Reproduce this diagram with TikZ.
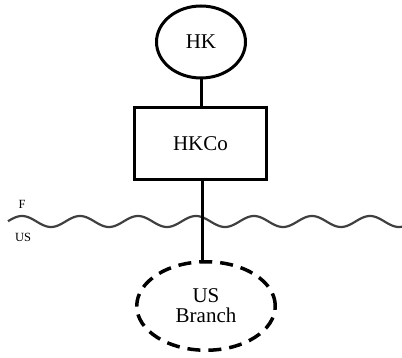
\documentclass[tikz,border=0pt]{standalone}
\usepackage{fontspec}
\setmainfont{Liberation Serif}
\usetikzlibrary{shapes.geometric}
\begin{document}
\begin{tikzpicture}[x=1pt,y=-1pt,
  entity/.style={draw=black,line width=3pt,ellipse,inner sep=0pt,font=\fontsize{21}{23}\selectfont,align=center},
  company/.style={draw=black,line width=3pt,rectangle,inner sep=0pt,font=\fontsize{21}{23}\selectfont},
  branch/.style={entity,dash pattern=on 13pt off 8pt,line width=3.5pt},
  link/.style={draw=black,line width=3pt},
  border/.style={draw=black!75,line width=2.2pt},
  side/.style={font=\fontsize{12.5}{14}\selectfont}]
\useasboundingbox (0,0) rectangle (402,358);
% owner and its company
\node[entity,minimum width=89pt,minimum height=72pt] (hk) at (201,42) {HK};
\node[company,minimum width=132pt,minimum height=72pt] (hkco) at (200.5,144) {HKCo};
% branch across the border
\node[branch,minimum width=138.5pt,minimum height=88.5pt] (br) at (206,306) {US\\[-3pt]Branch};
% wavy border line (period 58pt)
\draw[border,domain=8:402,samples=200,smooth] plot (\x,{221.5-5.5*cos(6.2069*(\x-22))});
\node[side] (f) at (22,204) {F};
\node[side] (us) at (23,237) {US};
% ownership links
\draw[link] (hk.south) -- (hkco.north -| hk.south);
\draw[link] (hkco.south -| 202,0) -- (br.north -| 202,0);
\end{tikzpicture}
\end{document}
